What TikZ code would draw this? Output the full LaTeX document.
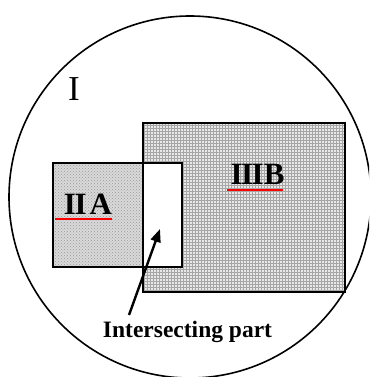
\documentclass[tikz,border=0pt]{standalone}
\usepackage{fontspec}
\setmainfont{Liberation Serif}
\usetikzlibrary{patterns,arrows.meta}
\tikzset{
  outline/.style={line width=1.7pt},
  lab/.style={inner sep=0pt, anchor=base},
  redline/.style={red, line width=2pt},
}
\newcommand{\numII}{I\kern-1.5ptI}
\newcommand{\numIII}{I\kern-1.5ptI\kern-1.5ptI}
\begin{document}
\begin{tikzpicture}[x=1pt,y=-1pt]
\useasboundingbox (0,0) rectangle (369,377);
\clip (0,0) rectangle (369,377);
% outer circle
\draw[line width=1.6pt] (190,197) circle [radius=181];
\node[lab, font=\fontsize{35}{35}\selectfont] (I) at (74,101) {I};
% B rectangle
\fill[gray!18] (143,123) rectangle (345,292);
\fill[pattern=grid, pattern color=gray!70] (143,123) rectangle (345,292);
% A rectangle
\fill[gray!30] (53,163) rectangle (143,267);
\fill[pattern=crosshatch dots, pattern color=gray!80] (53,163) rectangle (143,267);
% intersecting part (white)
\fill[white] (143,163) rectangle (182,267);
\draw[outline] (143,123) rectangle (345,292);
\draw[outline] (53,163) rectangle (182,267);
% labels
\node[lab, font=\bfseries\fontsize{31}{31}\selectfont] (A) at (88,214) {\numII\kern3pt A};
\draw[redline] (55,218.5) -- (112,218.5);
\node[lab, font=\bfseries\fontsize{31}{31}\selectfont] (B) at (257.5,184) {\numIII B};
\draw[redline] (227,189.5) -- (283,189.5);
% arrow
\node[lab, font=\bfseries\fontsize{23.5}{23.5}\selectfont] (T) at (187.5,337) {Intersecting part};
\coordinate (tip) at (160,229);
\draw[line width=2.4pt, -{Triangle[length=13pt,width=10pt]}] (129,315) -- (tip);
\end{tikzpicture}
\end{document}
